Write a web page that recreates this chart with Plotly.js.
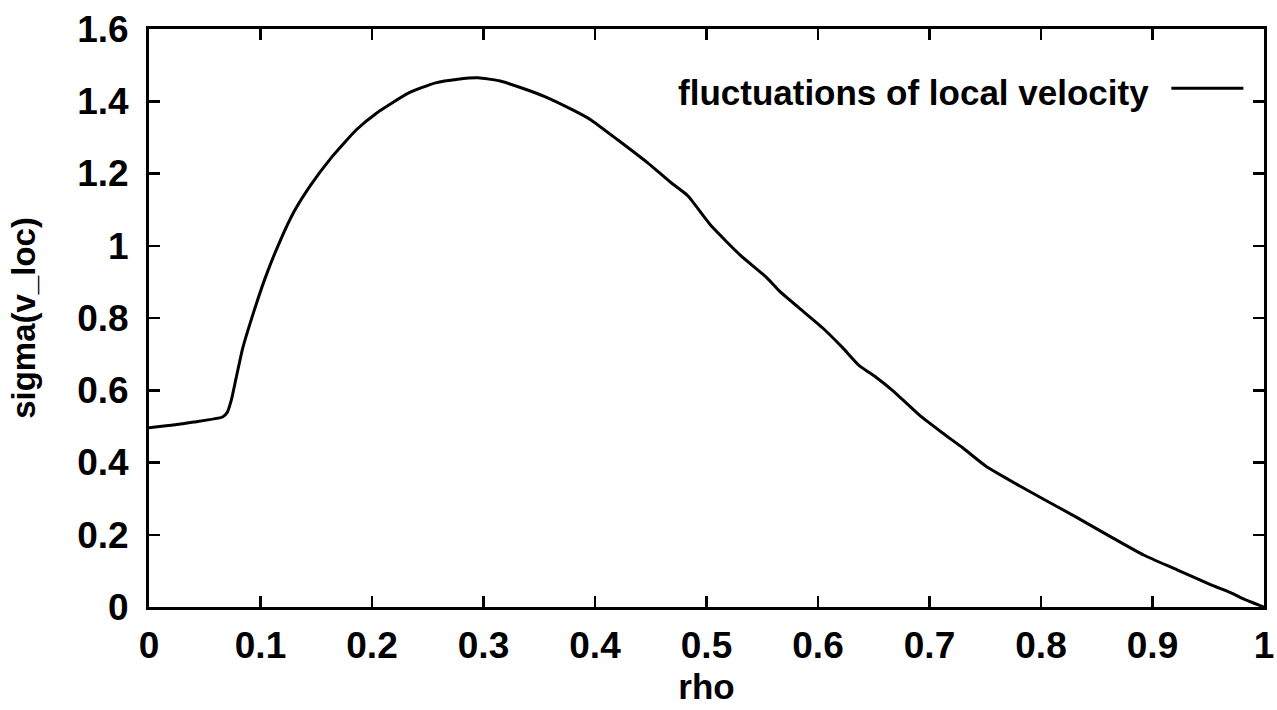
<!DOCTYPE html>
<html>
<head>
<meta charset="utf-8">
<script src="https://cdn.plot.ly/plotly-3.0.1.min.js"></script>
<style>
  html, body { margin: 0; padding: 0; background: #fff; }
  #chart { width: 1277px; height: 710px; }
</style>
</head>
<body>
<div id="chart"></div>
<script>
// rho values (x)
const rho = [0, 0.02, 0.04, 0.066, 0.07, 0.074, 0.078, 0.084, 0.093, 0.104, 0.116, 0.13, 0.145, 0.163, 0.186, 0.204, 0.233, 0.257, 0.277, 0.295, 0.315, 0.335, 0.355, 0.38, 0.396, 0.42, 0.447, 0.468, 0.483, 0.504, 0.531, 0.554, 0.566, 0.583, 0.604, 0.622, 0.637, 0.652, 0.667, 0.691, 0.712, 0.73, 0.751, 0.781, 0.802, 0.832, 0.865, 0.892, 0.922, 0.952, 0.97, 0.982, 1.0];
// sigma(v_loc) values (y)
const sigmaVloc = [0.496, 0.503, 0.512, 0.526, 0.538, 0.575, 0.632, 0.716, 0.808, 0.909, 1.002, 1.094, 1.168, 1.242, 1.321, 1.367, 1.423, 1.451, 1.461, 1.465, 1.456, 1.436, 1.413, 1.376, 1.349, 1.294, 1.230, 1.175, 1.139, 1.056, 0.972, 0.912, 0.873, 0.828, 0.773, 0.718, 0.668, 0.636, 0.599, 0.531, 0.481, 0.440, 0.389, 0.335, 0.299, 0.248, 0.190, 0.144, 0.103, 0.062, 0.040, 0.022, 0.0];

const seriesName = "fluctuations of local velocity\u00a0";
const xTitle = "rho";
const yTitle = "sigma(v_loc)";

const FONT = "Liberation Sans, Arial, Helvetica, sans-serif";

const trace = {
  x: rho,
  y: sigmaVloc,
  type: "scatter",
  mode: "lines",
  name: " ",
  line: { color: "#000", width: 3, shape: "spline", smoothing: 0.5 },
  showlegend: true
};

const axisCommon = {
  showgrid: false,
  zeroline: false,
  showline: true,
  linecolor: "#000",
  linewidth: 3,
  mirror: "ticks",
  ticks: "inside",
  ticklen: 11,
  tickwidth: 2.5,
  tickcolor: "#000",
  ticklabeloverflow: "allow",
  tickfont: { family: FONT, size: 37, color: "#000", weight: "bold" }
};

const layout = {
  width: 1277,
  height: 710,
  paper_bgcolor: "#fff",
  plot_bgcolor: "#fff",
  margin: { l: 149, r: 13, t: 29, b: 103 },
  font: { family: FONT, color: "#000" },
  xaxis: Object.assign({}, axisCommon, {
    range: [0, 1],
    tick0: 0,
    dtick: 0.1,
    ticklabelstandoff: 4,
    title: { text: xTitle, font: { family: FONT, size: 35, color: "#000", weight: "bold" }, standoff: 10 }
  }),
  yaxis: Object.assign({}, axisCommon, {
    range: [0, 1.6],
    tick0: 0,
    dtick: 0.2,
    ticklabelstandoff: 10,
    title: { text: yTitle, font: { family: FONT, size: 33, color: "#000", weight: "bold" }, standoff: 32 }
  }),
  showlegend: true,
  legend: {
    x: 1.0,
    xanchor: "right",
    y: 0.948,
    yanchor: "top",
    bgcolor: "rgba(0,0,0,0)",
    borderwidth: 0,
    font: { family: FONT, size: 35, color: "#000", weight: "bold" },
    title: { text: seriesName, side: "left", font: { family: FONT, size: 35, color: "#000", weight: "bold" } },
    itemwidth: 72
  }
};

Plotly.newPlot("chart", [trace], layout, { displayModeBar: false, staticPlot: true });
</script>
</body>
</html>
